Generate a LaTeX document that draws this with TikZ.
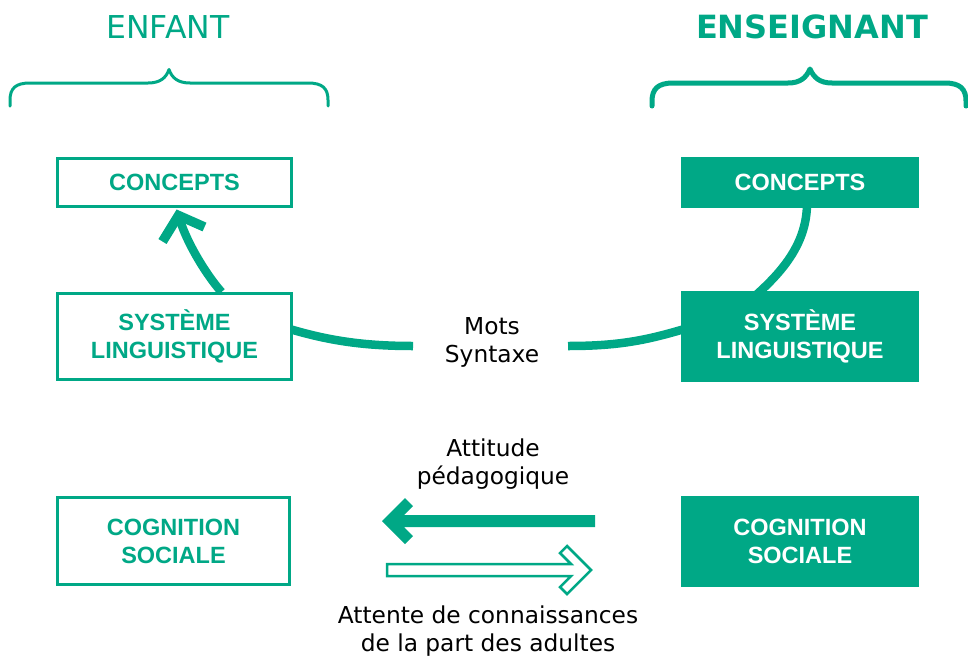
\documentclass[tikz,border=0pt]{standalone}
\usepackage{fontspec}
\setmainfont{Liberation Sans}
\newfontfamily\labelfont{DejaVu Sans}
\usetikzlibrary{backgrounds}
\definecolor{vert}{RGB}{0,168,134}
\begin{document}
\begin{tikzpicture}[x=1pt,y=-1pt,
  boxbase/.style={inner sep=0pt, align=center, font=\bfseries\fontsize{23.5}{28}\selectfont},
  openbox/.style={boxbase, draw=vert, line width=2.7pt, fill=white, text=vert, minimum width=234.3pt},
  solidbox/.style={boxbase, fill=vert, text=white, minimum width=238pt, outer sep=0pt},
  lbl/.style={align=center, text=black, font=\labelfont\fontsize{23.3}{28}\selectfont},
  conn/.style={draw=vert, line width=8.5pt},
  barb/.style={draw=vert, line width=9.5pt, line join=miter},
  bracestyle/.style={draw=vert, line cap=round, line join=round}
]
\useasboundingbox (0,0) rectangle (968,656);

% headers
\node[text=vert, font=\labelfont\fontsize{31.5}{36}\selectfont] (enfant) at (168,27) {ENFANT};
\node[text=vert, font=\labelfont\bfseries\fontsize{32}{36}\selectfont] (ens) at (812,27) {ENSEIGNANT};

% braces
\draw[bracestyle, line width=3pt] (10,106) -- (10,100) .. controls (10,88) and (16,83) .. (30,83) -- (148,83)
  .. controls (160,83) and (166,78) .. (169,69.5) .. controls (172,78) and (178,83) .. (190,83) -- (308,83)
  .. controls (322,83) and (328,88) .. (328,100) -- (328,106);
\draw[bracestyle, line width=5pt] (652,106) -- (652,101) .. controls (652,89) and (658,83) .. (673,83) -- (788,83)
  .. controls (800,83) and (806,78) .. (810,69) .. controls (814,78) and (820,83) .. (832,83) -- (945,83)
  .. controls (960,83) and (966,89) .. (966,101) -- (966,106);

% left boxes
\node[openbox, minimum height=48.3pt] (lcon) at (174.5,182.5) {CONCEPTS};
\node[openbox, minimum height=86.3pt] (lsys) at (174.5,336.5) {SYSTÈME\\LINGUISTIQUE};
\node[openbox, minimum height=87.3pt, minimum width=232.3pt] (lcog) at (173.5,541) {COGNITION\\SOCIALE};

% right boxes
\node[solidbox, minimum height=51pt] (rcon) at (800,182.5) {CONCEPTS};
\node[solidbox, minimum height=91pt] (rsys) at (800,336.5) {SYSTÈME\\LINGUISTIQUE};
\node[solidbox, minimum height=91pt] (rcog) at (800,541.5) {COGNITION\\SOCIALE};

% middle labels
\node[lbl] (mots) at (492,342) {Mots\\Syntaxe};
\node[lbl] (att) at (493,464) {Attitude\\pédagogique};
\node[lbl] (attente) at (488,631) {Attente de connaissances\\de la part des adultes};

\coordinate (mL) at (413,346);
\coordinate (mR) at (568,346);
\coordinate (attL) at (382,521);
\coordinate (attR) at (595,521);
\coordinate (expS) at (387,570);
\coordinate (expT) at (591,570);

% connectors behind boxes
\begin{pgfonlayer}{background}
\draw[conn] ([shift={(47,0)}]lsys.north) .. controls +(-16,-18) and +(6,24) .. ([shift={(4,7)}]lcon.south);
\draw[conn] ([shift={(-5,-8)}]lsys.east) .. controls +(40,12) and +(-50,0) .. (mL);
\draw[conn] (mR) .. controls +(50,0) and +(-40,12) .. ([shift={(5,-8)}]rsys.west);
\draw[conn] ([shift={(7,-5)}]rcon.south) .. controls +(0,40) and +(28,-25) .. ([shift={(-45,5)}]rsys.north);
\end{pgfonlayer}
\draw[barb] ([shift={(-12,33.5)}]lcon.south) -- ([shift={(4,7.5)}]lcon.south) -- ([shift={(30,19)}]lcon.south);

% attitude arrow (solid, pointing left)
\fill[vert] (attL) -- ([shift={(23,-23)}]attL) -- ([shift={(31,-15)}]attL) -- ([shift={(22,-6)}]attL)
  -- ([shift={(0,-6)}]attR) -- ([shift={(0,6)}]attR) -- ([shift={(22,6)}]attL) -- ([shift={(31,15)}]attL)
  -- ([shift={(23,23)}]attL) -- cycle;

% expectation arrow (hollow, pointing right)
\draw[draw=vert, fill=white, line width=2.5pt, line join=miter] ([shift={(0,-6)}]expS) -- ([shift={(-20,-6)}]expT)
  -- ([shift={(-31,-17)}]expT) -- ([shift={(-24,-24)}]expT) -- (expT) -- ([shift={(-24,24)}]expT)
  -- ([shift={(-31,17)}]expT) -- ([shift={(-20,6)}]expT) -- ([shift={(0,6)}]expS) -- cycle;
\end{tikzpicture}
\end{document}
